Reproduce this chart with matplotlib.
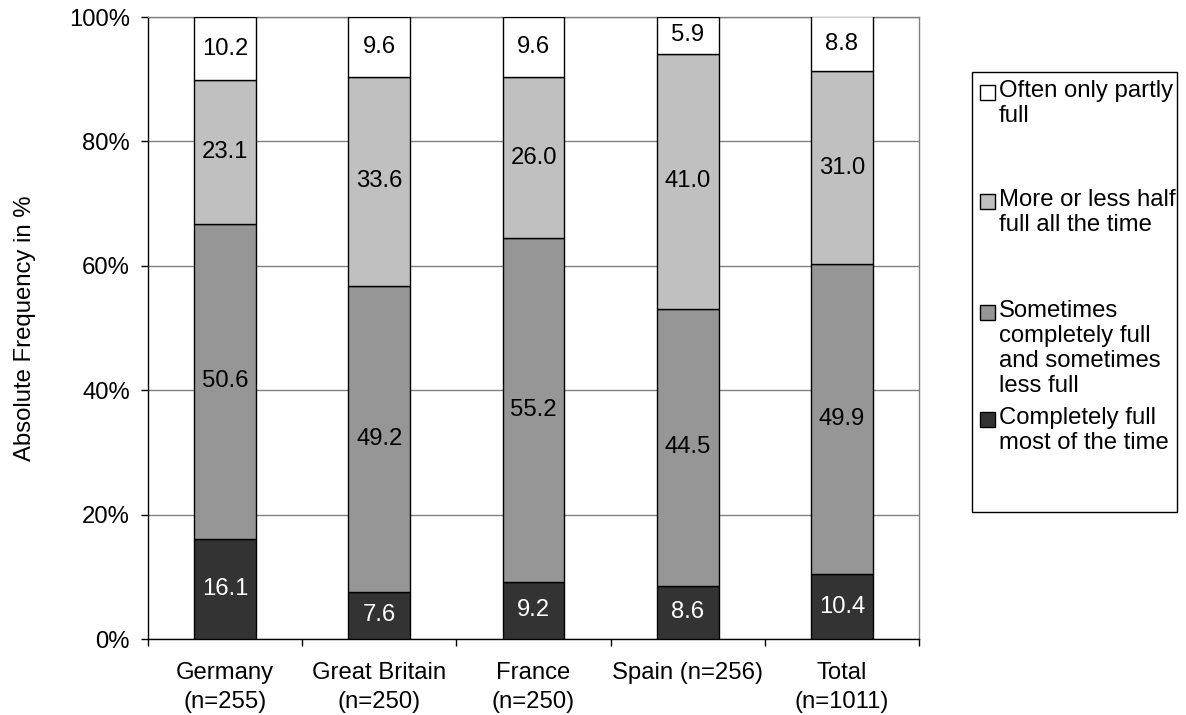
import numpy as np
import matplotlib
matplotlib.use("Agg")
import matplotlib.pyplot as plt
from matplotlib.patches import Rectangle

plt.rcParams["font.family"] = ["Liberation Sans", "DejaVu Sans"]

# Survey results per country (percent of respondents)
countries = ["Germany\n(n=255)", "Great Britain\n(n=250)", "France\n(n=250)",
             "Spain (n=256)", "Total\n(n=1011)"]
completely_full = [16.1, 7.6, 9.2, 8.6, 10.4]
sometimes_full = [50.6, 49.2, 55.2, 44.5, 49.9]
half_full = [23.1, 33.6, 26.0, 41.0, 31.0]
partly_full = [10.2, 9.6, 9.6, 5.9, 8.8]

series = [completely_full, sometimes_full, half_full, partly_full]
series_labels = ["Completely full\nmost of the time",
                 "Sometimes\ncompletely full\nand sometimes\nless full",
                 "More or less half\nfull all the time",
                 "Often only partly\nfull"]
colors = ["#333333", "#969696", "#c0c0c0", "#ffffff"]
text_colors = ["white", "black", "black", "black"]

yticks = [0, 20, 40, 60, 80, 100]
ytick_labels = ["0%", "20%", "40%", "60%", "80%", "100%"]

FS = 17.2
W, H = 1186, 715
fig = plt.figure(figsize=(W / 100, H / 100), dpi=100)
ax = fig.add_axes([148 / W, 1 - 639 / H, (919 - 148) / W, (639 - 17) / H])

x = np.arange(len(countries))
bottom = np.zeros(len(countries))
for vals, col, tcol in zip(series, colors, text_colors):
    vals = np.array(vals)
    ax.bar(x, vals, width=0.40, bottom=bottom, color=col,
           edgecolor="black", linewidth=1.0, zorder=3)
    for xi, b, v in zip(x, bottom, vals):
        ax.text(xi, b + v / 2, f"{v:.1f}", ha="center", va="center",
                fontsize=FS, color=tcol, zorder=4)
    bottom += vals

ax.set_xlim(-0.5, len(countries) - 0.5)
ax.set_ylim(0, 100)

ax.set_yticks(yticks)
ax.set_yticklabels(ytick_labels, fontsize=FS)
ax.yaxis.grid(True, color="#808080", linewidth=1.0, zorder=0)
ax.tick_params(axis="y", direction="out", length=5, width=1, pad=8, colors="black")

ax.set_xticks(np.arange(-0.5, len(countries), 1.0))
ax.set_xticklabels([])
ax.tick_params(axis="x", which="major", direction="out", length=5, width=1)
ax.set_xticks(x, minor=True)
ax.set_xticklabels(countries, minor=True, fontsize=FS, linespacing=1.42)
ax.tick_params(axis="x", which="minor", length=0, pad=16.5)

for side in ("left", "bottom"):
    ax.spines[side].set_color("black")
    ax.spines[side].set_linewidth(1.0)
for side in ("right", "top"):
    ax.spines[side].set_color("#808080")
    ax.spines[side].set_linewidth(1.0)

fig.text(25 / W, 1 - 328 / H, "Absolute Frequency in %", rotation=90,
         ha="center", va="center", fontsize=FS)

# Legend box, entries listed from the top segment down
fig.patches.append(Rectangle((972 / W, 1 - 512 / H), (1177 - 972) / W, (512 - 72) / H,
                             transform=fig.transFigure, facecolor="white",
                             edgecolor="black", linewidth=1.0))
entry_tops = [80, 189, 300, 407]
for i, top in enumerate(entry_tops):
    k = len(series) - 1 - i
    cap_mid = top + 4 + 8
    fig.patches.append(Rectangle((980 / W, 1 - (cap_mid + 7.5) / H), 15 / W, 15 / H,
                                 transform=fig.transFigure, facecolor=colors[k],
                                 edgecolor="black", linewidth=1.0))
    fig.text(999 / W, 1 - top / H, series_labels[k], ha="left", va="top",
             fontsize=FS, linespacing=1.17)

fig.savefig("out.png", dpi=100)
